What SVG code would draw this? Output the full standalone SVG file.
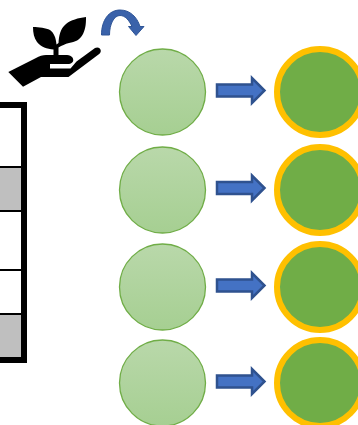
<svg xmlns="http://www.w3.org/2000/svg" width="358" height="425" viewBox="0 0 358 425">
<defs>
<linearGradient id="lg" x1="0" y1="0" x2="0" y2="1"><stop offset="0" stop-color="#b9d8aa"/><stop offset="1" stop-color="#a6cf92"/></linearGradient>
<path id="arr" d="M217 -6H252V-12.500L264.500 0L252 12.500V6H217Z"/>
</defs>
<style>
.s{fill:url(#lg);stroke:#70ad47;stroke-width:1.300}
.b{fill:#70ad47;stroke:#ffc000;stroke-width:6}
.a{fill:#4472c4;stroke:#2f528f;stroke-width:2.500}
.k{fill:#000}
</style>
<rect width="358" height="425" fill="#fff"/>
<g id="table">
<rect x="0" y="167" width="22" height="43" fill="#bfbfbf"/>
<rect x="0" y="314" width="22" height="43" fill="#bfbfbf"/>
<path d="M0 167H22M0 211H22M0 270H22M0 314H22" stroke="#000" stroke-width="2" fill="none"/>
<path d="M0 105H24V360H0" fill="none" stroke="#000" stroke-width="6"/>
</g>
<g id="plant-hand">
<path class="k" d="M8.300 72L36 58C39 56 43 55 46 55H67C72 55 74 59 73 61.500C72 63 70.500 64 69 64H50V68.500H70.500L76.500 61.500L95 48C98 46.500 101 48.500 100.800 51C100.600 52.500 100 53.500 98.500 54.500L68.500 77H41L23 86.700Z"/>
<path class="k" d="M53.500 55H58.500V47.500C62 45.500 65 44 69 43C75 42 80 40 83 34C86 28 86 22 86 17C78 18 71 20 66 24C60 29 59 36 58.500 43L56.500 44.500C56 38 54 33 50 30C46 28 39 27 33 27C33 33 34 38 37 42C41 47 47 49 53.500 49.500Z"/>
</g>
<g id="curve-arrow">
<path d="M101.500 35C101.500 20 109 10 120 10C130 10 137 17 140 26.500H144L136 35.500L128.500 26.500H132C129 20 125 15.500 120 15.500C114 15.500 109.500 24 109.500 35Z" fill="#3a62aa" stroke="#2f5597" stroke-width="1"/>
</g>
<g id="connectors">
<use href="#arr" class="a" y="90.500"/>
<use href="#arr" class="a" y="188"/>
<use href="#arr" class="a" y="285.500"/>
<use href="#arr" class="a" y="381.500"/>
</g>
<g id="n1"><circle class="s" cx="162.500" cy="92" r="43"/></g>
<g id="n2"><circle class="s" cx="162.500" cy="190" r="43"/></g>
<g id="n3"><circle class="s" cx="162.500" cy="287" r="43"/></g>
<g id="n4"><circle class="s" cx="162.500" cy="383" r="43"/></g>
<g id="r1"><circle class="b" cx="320" cy="92" r="43"/></g>
<g id="r2"><circle class="b" cx="320" cy="190" r="43"/></g>
<g id="r3"><circle class="b" cx="320" cy="287" r="43"/></g>
<g id="r4"><circle class="b" cx="320" cy="383" r="43"/></g>
</svg>
